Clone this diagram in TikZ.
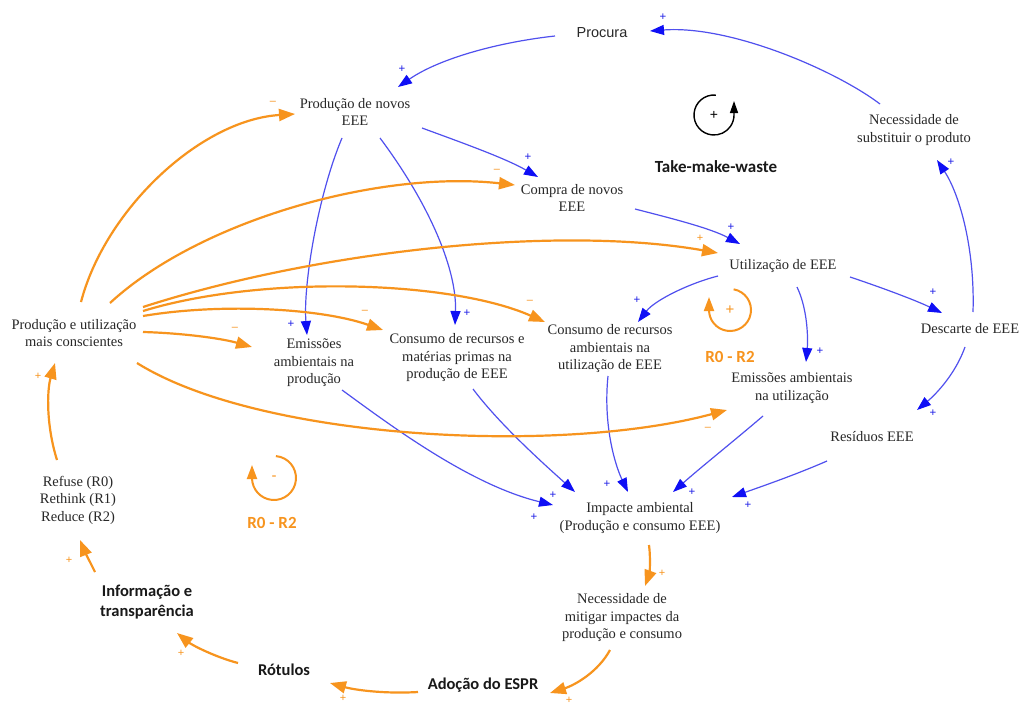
\documentclass[tikz,border=0pt]{standalone}
\usepackage{fontspec}
\setmainfont{Liberation Serif}
\newfontfamily\arialf{Liberation Sans}
\newfontfamily\calib{Carlito}
\usetikzlibrary{arrows.meta,calc}
\definecolor{linkblue}{RGB}{80,80,238}
\definecolor{headblue}{RGB}{15,15,245}
\definecolor{signblue}{RGB}{30,30,230}
\definecolor{loopor}{RGB}{247,148,30}
\definecolor{txtgray}{RGB}{40,40,40}
\tikzset{
  var/.style={align=center, font=\fontsize{14.5}{17.5}\selectfont, text=txtgray, inner sep=0pt},
  svar/.style={align=center, font=\arialf\fontsize{14.5}{17.5}\selectfont, text=txtgray, inner sep=0pt},
  bvar/.style={align=center, font=\calib\bfseries\fontsize{16.5}{20}\selectfont, text=black!90, inner sep=0pt},
  looplabel/.style={font=\calib\bfseries\fontsize{17}{20}\selectfont, inner sep=0pt},
  link/.style={draw=linkblue, line width=1.2pt, -{Triangle[length=14pt,width=10pt,color=headblue]}},
  olink/.style={draw=loopor, line width=2.2pt, -{Triangle[length=16pt,width=12pt]}},
  sgnb/.style={text=signblue, font=\arialf\fontsize{11.5}{11.5}\selectfont, inner sep=0pt},
  sgno/.style={text=loopor, font=\arialf\fontsize{11}{11}\selectfont, inner sep=0pt},
}
\begin{document}
\begin{tikzpicture}[x=1pt,y=-1pt]
\fill[white] (0,0) rectangle (1022,704);
\useasboundingbox (0,0) rectangle (1022,704);

% variables
\node[svar] (procura) at (602,33) {Procura};
\node[var] (pnovos) at (355,112) {Produção de novos\\EEE};
\node[var] (compra) at (572,198) {Compra de novos\\EEE};
\node[var] (subst) at (914,130) {Necessidade de\\substituir o produto};
\node[var] (util) at (783,266) {Utilização de EEE};
\node[var] (desc) at (970,329) {Descarte de EEE};
\node[var] (consc) at (74,333) {Produção e utilização\\mais conscientes};
\node[var] (emprod) at (314,363) {Emissões\\ambientais na\\produção};
\node[var] (conprod) at (457,358) {Consumo de recursos e\\matérias primas na\\produção de EEE};
\node[var] (conutil) at (610,349) {Consumo de recursos\\ambientais na\\utilização de EEE};
\node[var] (emutil) at (792,388) {Emissões ambientais\\na utilização};
\node[var] (resid) at (872,437) {Resíduos EEE};
\node[var] (impacte) at (640,518) {Impacte ambiental\\(Produção e consumo EEE)};
\node[var] (mitigar) at (622,618) {Necessidade de\\mitigar impactes da\\produção e consumo};
\node[bvar] (espr) at (483,685) {Adoção do ESPR};
\node[bvar] (rotulos) at (284,670) {Rótulos};
\node[bvar] (info) at (147,602) {Informação e\\transparência};
\node[var] (refuse) at (78,500) {Refuse (R0)\\Rethink (R1)\\Reduce (R2)};

% loop markers
\node[looplabel, text=black!90] (tmw) at (716,167) {Take-make-waste};
\coordinate (tmwc) at (714,115);
\draw[line width=1.4pt, -{Triangle[length=12pt,width=8pt]}]
  ($(tmwc)+(-85:20)$) arc[start angle=-85, end angle=-360, radius=20] -- ++(0,-14);
\node[font=\arialf\fontsize{14}{14}\selectfont, inner sep=0pt] (tmwsign) at (tmwc) {+};

\node[looplabel, text=loopor] (ra) at (730,357) {R0 - R2};
\coordinate (rac) at (730,310);
\draw[draw=loopor, line width=2pt, -{Triangle[length=14pt,width=10pt]}]
  ($(rac)+(-80:21)$) arc[start angle=-80, end angle=180, radius=21] -- ++(0,-13);
\node[text=loopor, font=\arialf\fontsize{15}{15}\selectfont, inner sep=0pt] (rasign) at (rac) {+};

\node[looplabel, text=loopor] (rb) at (272,523) {R0 - R2};
\coordinate (rbc) at (274,478);
\draw[draw=loopor, line width=2pt, -{Triangle[length=14pt,width=10pt]}]
  ($(rbc)+(-85:22)$) arc[start angle=-85, end angle=180, radius=22] -- ++(0,-13);
\node[text=loopor, font=\arialf\fontsize{15}{15}\selectfont, inner sep=0pt] (rbsign) at (rbc) {-};

% blue links (take-make-waste)
\draw[link] ($(procura)+(-47,3)$) .. controls (500,42) and (440,58) .. ($(pnovos)+(43,-25)$);
\node[sgnb] (s1) at (402,69) {+};
\draw[link] ($(subst)+(-34,-26)$) .. controls (835,70) and (730,25) .. ($(procura)+(48,-2)$);
\node[sgnb] (s2) at (663,17) {+};
\draw[link] ($(pnovos)+(67,16)$) .. controls (460,142) and (505,158) .. ($(compra)+(-34,-21)$);
\node[sgnb] (s3) at (528,157) {+};
\draw[link] ($(pnovos)+(-13,26)$) .. controls (318,195) and (303,285) .. ($(emprod)+(-7,-28)$);
\node[sgnb] (s4) at (291,324) {+};
\draw[link] ($(pnovos)+(25,26)$) .. controls (430,205) and (457,270) .. ($(conprod)+(-2,-33)$);
\node[sgnb] (s5) at (467,313) {+};
\draw[link] ($(compra)+(63,11)$) .. controls (670,218) and (710,228) .. ($(util)+(-43,-22)$);
\node[sgnb] (s6) at (731,227) {+};
\draw[link] ($(util)+(-65,10)$) .. controls (690,283) and (655,300) .. ($(conutil)+(28,-27)$);
\node[sgnb] (s7) at (637,300) {+};
\draw[link] ($(util)+(14,21)$) .. controls (808,310) and (808,340) .. ($(emutil)+(14,-26)$);
\node[sgnb] (s8) at (820,351) {+};
\draw[link] ($(util)+(67,11)$) .. controls (880,287) and (915,300) .. ($(desc)+(-28,-16)$);
\node[sgnb] (s9) at (933,292) {+};
\draw[link] ($(desc)+(3,-17)$) .. controls (975,250) and (960,195) .. ($(subst)+(23,30)$);
\node[sgnb] (s10) at (951,162) {+};
\draw[link] ($(desc)+(-5,18)$) .. controls (955,375) and (935,395) .. ($(resid)+(45,-27)$);
\node[sgnb] (s11) at (933,413) {+};
\draw[link] ($(emprod)+(28,27)$) .. controls (390,425) and (470,485) .. ($(impacte)+(-87,-13)$);
\node[sgnb] (s12) at (534,517) {+};
\draw[link] ($(conprod)+(16,31)$) .. controls (500,425) and (545,465) .. ($(impacte)+(-65,-26)$);
\node[sgnb] (s13) at (553,495) {+};
\draw[link] ($(conutil)+(-2,27)$) .. controls (603,425) and (615,465) .. ($(impacte)+(-12,-26)$);
\node[sgnb] (s14) at (607,484) {+};
\draw[link] ($(emutil)+(-29,28)$) .. controls (735,440) and (700,468) .. ($(impacte)+(33,-26)$);
\node[sgnb] (s15) at (692,492) {+};
\draw[link] ($(resid)+(-45,24)$) .. controls (795,475) and (760,487) .. ($(impacte)+(92,-21)$);
\node[sgnb] (s16) at (748,505) {+};

% orange links (R0 - R2 strategies)
\draw[olink] ($(consc)+(7,-31)$) .. controls (105,210) and (200,120) .. ($(pnovos)+(-60,2)$);
\node[sgno] (o1) at (273,103) {–};
\draw[olink] ($(consc)+(36,-30)$) .. controls (200,220) and (380,170) .. ($(compra)+(-57,-13)$);
\node[sgno] (o2) at (497,171) {–};
\draw[olink] ($(consc)+(69,-26)$) .. controls (320,250) and (560,225) .. ($(util)+(-65,-13)$);
\node[sgno] (o3) at (700,238) {+};
\draw[olink] ($(consc)+(69,-22)$) .. controls (260,275) and (450,280) .. ($(conutil)+(-65,-27)$);
\node[sgno] (o4) at (530,302) {–};
\draw[olink] ($(consc)+(69,-17)$) .. controls (220,303) and (320,308) .. ($(conprod)+(-74,-28)$);
\node[sgno] (o5) at (365,312) {–};
\draw[olink] ($(consc)+(69,-1)$) .. controls (180,333) and (220,338) .. ($(emprod)+(-62,-16)$);
\node[sgno] (o6) at (235,329) {–};
\draw[olink] ($(consc)+(63,30)$) .. controls (260,440) and (560,455) .. ($(emutil)+(-65,22)$);
\node[sgno] (o7) at (708,429) {–};
\draw[olink] ($(refuse)+(-21,-40)$) .. controls (46,425) and (47,390) .. ($(consc)+(-19,30)$);
\node[sgno] (o8) at (38,376) {+};
\draw[olink] ($(info)+(-52,-30)$) .. controls (89,560) and (84,550) .. ($(refuse)+(2,40)$);
\node[sgno] (o9) at (69,560) {+};
\draw[olink] ($(rotulos)+(-46,-7)$) .. controls (215,657) and (192,645) .. ($(info)+(30,31)$);
\node[sgno] (o10) at (181,653) {+};
\draw[olink] ($(espr)+(-65,7)$) .. controls (385,694) and (355,690) .. ($(rotulos)+(46,13)$);
\node[sgno] (o11) at (343,698) {+};
\draw[olink] ($(mitigar)+(-12,32)$) .. controls (598,672) and (575,685) .. ($(espr)+(67,8)$);
\node[sgno] (o12) at (569,700) {+};
\draw[olink] ($(impacte)+(9,27)$) .. controls (651,560) and (649,575) .. ($(mitigar)+(23,-32)$);
\node[sgno] (o13) at (662,573) {+};
\end{tikzpicture}
\end{document}
